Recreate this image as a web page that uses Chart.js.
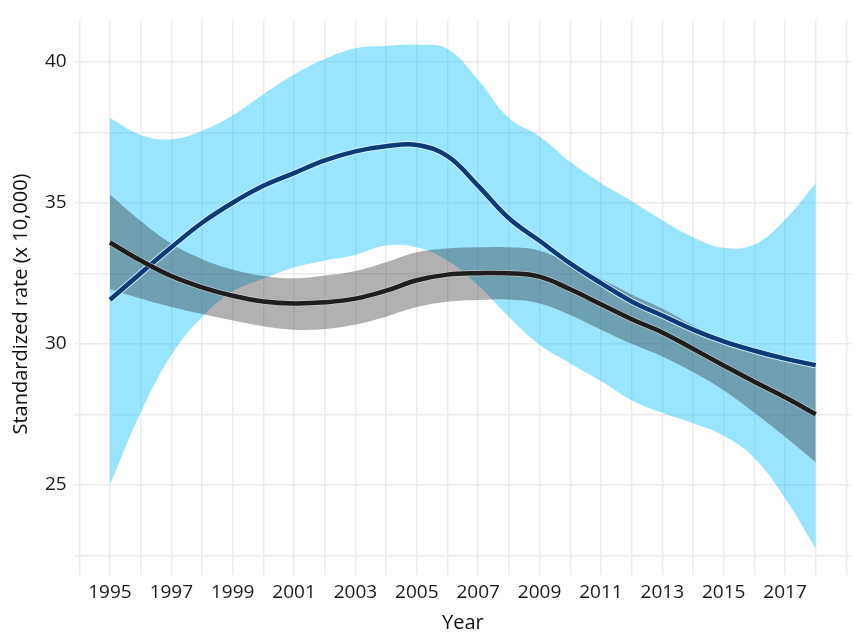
<!DOCTYPE html>
<html>
<head>
<meta charset="utf-8">
<title>Standardized rate by year</title>
<script src="https://cdn.jsdelivr.net/npm/chart.js@4.4.1/dist/chart.umd.min.js"></script>
<style>
    html, body { margin: 0; padding: 0; background: #fff; }
    #wrap { width: 857px; height: 639px; position: relative; }
</style>
</head>
<body>
<div id="wrap"><canvas id="rateChart"></canvas></div>
<script>
// Values, one per year
const years = [1995, 1996, 1997, 1998, 1999, 2000, 2001, 2002, 2003, 2004, 2005, 2006,
               2007, 2008, 2009, 2010, 2011, 2012, 2013, 2014, 2015, 2016, 2017, 2018];

// blue smooth and its confidence band
const blueFit   = [31.56, 32.5, 33.42, 34.29, 35.0, 35.6, 36.05, 36.5, 36.82, 37.0, 37.05, 36.65,
                   35.6, 34.45, 33.65, 32.85, 32.15, 31.5, 31.0, 30.5, 30.08, 29.75, 29.47, 29.24];
const blueUpper = [38.0, 37.4, 37.25, 37.55, 38.1, 38.85, 39.55, 40.1, 40.48, 40.56, 40.6, 40.45,
                   39.35, 38.0, 37.35, 36.45, 35.7, 35.06, 34.38, 33.78, 33.4, 33.52, 34.4, 35.7];
const blueLower = [25.0, 27.55, 29.6, 30.95, 31.85, 32.3, 32.7, 32.95, 33.15, 33.48, 33.42, 32.95,
                   32.07, 30.95, 29.96, 29.3, 28.68, 28.0, 27.55, 27.18, 26.74, 25.95, 24.52, 22.73];

// black smooth and its confidence band
const blackFit   = [33.59, 32.95, 32.4, 32.0, 31.7, 31.5, 31.43, 31.47, 31.6, 31.88, 32.25, 32.45,
                    32.5, 32.5, 32.38, 31.93, 31.4, 30.87, 30.4, 29.82, 29.23, 28.65, 28.1, 27.5];
const grayUpper  = [35.29, 34.35, 33.55, 33.0, 32.63, 32.4, 32.32, 32.42, 32.58, 32.89, 33.24, 33.38,
                    33.42, 33.42, 33.3, 32.83, 32.3, 31.75, 31.25, 30.65, 30.1, 29.75, 29.45, 29.15];
const grayLower  = [31.93, 31.6, 31.3, 31.05, 30.82, 30.62, 30.5, 30.52, 30.68, 30.96, 31.3, 31.49,
                    31.55, 31.57, 31.43, 31.02, 30.5, 30.0, 29.55, 29.0, 28.35, 27.55, 26.7, 25.8];

// grid positions and labels
const xGridYears = [1994, 1995, 1996, 1997, 1998, 1999, 2000, 2001, 2002, 2003, 2004, 2005, 2006,
                    2007, 2008, 2009, 2010, 2011, 2012, 2013, 2014, 2015, 2016, 2017, 2018, 2019];
const xTickLabels = ['1995', '1997', '1999', '2001', '2003', '2005', '2007', '2009', '2011', '2013', '2015', '2017'];
const yGridValues = [22.5, 25, 27.5, 30, 32.5, 35, 37.5, 40];
const yTickLabels = ['25', '30', '35', '40'];
const yTitle = 'Standardized rate (x 10,000)';

const toPoints = arr => years.map((yr, i) => ({ x: yr, y: arr[i] }));

const FONT = '"Open Sans", "Noto Sans", sans-serif';
const GRID = '#ebebeb';

function band(data, order, fill, color) {
    return {
        data: toPoints(data),
        order: order,
        fill: fill,
        backgroundColor: color,
        borderWidth: 0,
        pointRadius: 0,
        tension: 0.4
    };
}

function line(data, order, color, width) {
    return {
        data: toPoints(data),
        order: order,
        fill: false,
        borderColor: color,
        borderWidth: width,
        pointRadius: 0,
        borderCapStyle: 'butt',
        tension: 0.4
    };
}

// y title drawn centred on the text block of the reference (it sits a bit below the panel centre)
const yTitlePlugin = {
    id: 'yTitle',
    afterDraw(chart) {
        const ctx = chart.ctx;
        ctx.save();
        ctx.translate(26.5, 304);
        ctx.rotate(-Math.PI / 2);
        ctx.font = '20px ' + FONT;
        ctx.fillStyle = '#111';
        ctx.textAlign = 'center';
        ctx.textBaseline = 'alphabetic';
        ctx.fillText(yTitle, 0, 0);
        ctx.restore();
    }
};

new Chart(document.getElementById('rateChart'), {
    type: 'line',
    data: {
        datasets: [
            band(blueLower, 9, false, 'transparent'),
            band(blueUpper, 8, '-1', 'rgba(0, 191, 255, 0.4)'),
            band(grayLower, 7, false, 'transparent'),
            band(grayUpper, 6, '-1', 'rgba(27, 27, 27, 0.34)'),
            line(blueFit, 4, 'rgba(225, 245, 255, 0.85)', 6.5),
            line(blueFit, 3, '#0c3b7a', 4.5),
            line(blackFit, 2, 'rgba(210, 210, 210, 0.7)', 6),
            line(blackFit, 1, '#1e1e1e', 4.5)
        ]
    },
    plugins: [yTitlePlugin],
    options: {
        responsive: true,
        maintainAspectRatio: false,
        animation: false,
        layout: { padding: { top: 15, right: 6, left: 0, bottom: 0 } },
        plugins: {
            legend: { display: false },
            tooltip: { enabled: false }
        },
        scales: {
            x: {
                type: 'linear',
                min: 1993.85,
                max: 2019.15,
                afterBuildTicks: s => { s.ticks = xGridYears.map(v => ({ value: v })); },
                afterFit: s => { s.height = 64; },
                border: { display: false },
                grid: { color: GRID, lineWidth: 1.4, drawTicks: false },
                ticks: {
                    autoSkip: false,
                    maxRotation: 0,
                    padding: 6,
                    color: '#1a1a1a',
                    font: { family: FONT, size: 19 },
                    callback: v => xTickLabels.includes(String(v)) ? String(v) : ''
                },
                title: {
                    display: true,
                    text: 'Year',
                    color: '#111',
                    font: { family: FONT, size: 20 },
                    padding: { top: 0, bottom: 4 }
                }
            },
            y: {
                min: 21.8,
                max: 41.5,
                afterBuildTicks: s => { s.ticks = yGridValues.map(v => ({ value: v })); },
                afterFit: s => { s.width = 74.7; },
                border: { display: false },
                grid: { color: GRID, lineWidth: 1.4, drawTicks: false },
                ticks: {
                    autoSkip: false,
                    padding: 8,
                    color: '#1a1a1a',
                    font: { family: FONT, size: 19 },
                    callback: v => yTickLabels.includes(String(v)) ? String(v) : ''
                }
            }
        }
    }
});
</script>
</body>
</html>
